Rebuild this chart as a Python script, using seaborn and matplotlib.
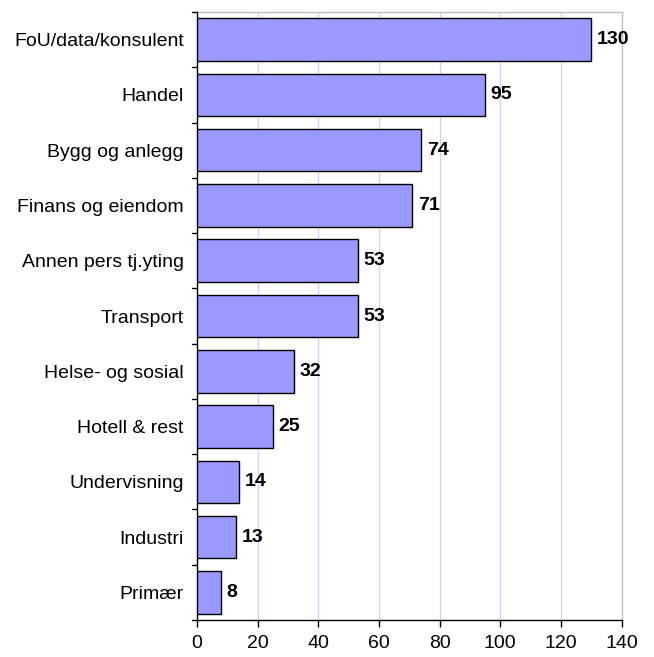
import matplotlib
matplotlib.use("Agg")
import matplotlib.pyplot as plt
import seaborn as sns
import pandas as pd

categories = ["FoU/data/konsulent", "Handel", "Bygg og anlegg", "Finans og eiendom",
              "Annen pers tj.yting", "Transport", "Helse- og sosial", "Hotell & rest",
              "Undervisning", "Industri", "Primær"]
values = [130, 95, 74, 71, 53, 53, 32, 25, 14, 13, 8]
x_ticks = [0, 20, 40, 60, 80, 100, 120, 140]

sns.set_theme(style="white")
plt.rcParams['font.family'] = ['Liberation Sans', 'DejaVu Sans']

df = pd.DataFrame({"cat": categories, "val": values})

fig = plt.figure(figsize=(6.54, 6.57), dpi=100)
ax = fig.add_axes([0.301, 0.0563, 0.6495, 0.9254])

sns.barplot(data=df, y="cat", x="val", orient="h", color="#9999FF",
            edgecolor="black", linewidth=1.0, width=0.77, saturation=1, ax=ax, zorder=3)

ax.set_xlim(0, 140)
ax.set_ylim(len(categories) - 0.5, -0.5)
ax.set_xticks(x_ticks)
ax.set_xticklabels([str(t) for t in x_ticks], fontsize=14, color="black")
ax.set_yticks(range(len(categories)))
ax.set_yticklabels(categories, fontsize=14, color="black")
ax.tick_params(axis="y", length=0, pad=9.5)
ax.tick_params(axis="x", length=5, width=1, color="black", direction="out", pad=6, bottom=True)
ax.set_xlabel("")
ax.set_ylabel("")

# boundary ticks on y axis
for b in [i - 0.5 for i in range(len(categories) + 1)]:
    ax.plot([-0.012, 0], [b, b], transform=ax.get_yaxis_transform(), color="black",
            lw=1, clip_on=False, zorder=5)

for x in x_ticks[1:-1]:
    ax.axvline(x, color="#CCCCFF", lw=0.8, zorder=1)

ax.spines["left"].set_color("black")
ax.spines["bottom"].set_color("black")
ax.spines["left"].set_linewidth(1)
ax.spines["bottom"].set_linewidth(1)
ax.spines["top"].set_color("#C0C0C0")
ax.spines["right"].set_color("#C0C0C0")
ax.spines["top"].set_linewidth(1)
ax.spines["right"].set_linewidth(1)

for i, v in enumerate(values):
    ax.text(v + 1.8, i, str(v), va="center", ha="left", fontsize=14,
            fontweight="bold", color="black", zorder=6, clip_on=False)

fig.savefig("out.png", dpi=100)
